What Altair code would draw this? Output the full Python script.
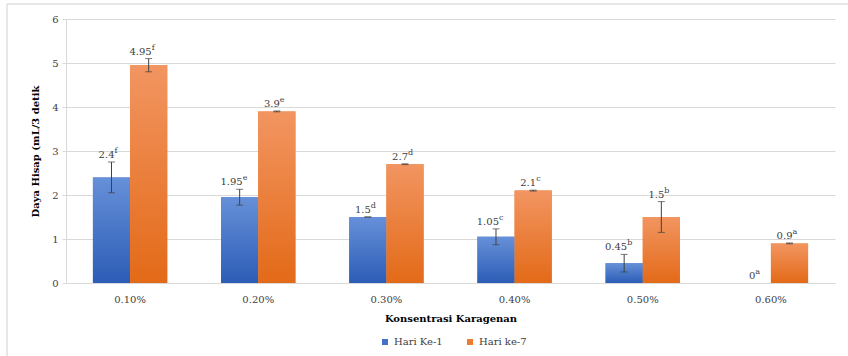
import altair as alt
import pandas as pd

categories = ["0.10%", "0.20%", "0.30%", "0.40%", "0.50%", "0.60%"]
series = ["Hari Ke-1", "Hari ke-7"]
day1 = [2.4, 1.95, 1.5, 1.05, 0.45, 0]
day1_err = [0.35, 0.18, 0.0, 0.18, 0.2, 0.0]
day1_letters = ["f", "e", "d", "c", "b", "a"]
day7 = [4.95, 3.9, 2.7, 2.1, 1.5, 0.9]
day7_err = [0.15, 0.01, 0.01, 0.01, 0.35, 0.01]
day7_letters = ["f", "e", "d", "c", "b", "a"]

rows = []
for s, vals, errs, lets in [(series[0], day1, day1_err, day1_letters),
                            (series[1], day7, day7_err, day7_letters)]:
    for c, v, e, l in zip(categories, vals, errs, lets):
        rows.append({"cat": c, "series": s, "value": v, "lo": max(v - e, 0), "hi": v + e,
                     "txt": f"{v:g}", "let": l})
df = pd.DataFrame(rows)

FONT = "DejaVu Serif"
x = alt.X("cat:N", sort=categories, title="Konsentrasi Karagenan",
          scale=alt.Scale(paddingInner=0.42, paddingOuter=0.21),
          axis=alt.Axis(labelAngle=0, ticks=False, domainColor="#D9D9D9", labelPadding=11,
                        labelFont=FONT, labelFontSize=10, labelColor="#404040",
                        titleFont=FONT, titleFontSize=10, titleFontWeight="bold",
                        titleColor="#000000", titlePadding=9))
xo = alt.XOffset("series:N", scale=alt.Scale(domain=series, paddingInner=0, paddingOuter=0))
y = alt.Y("value:Q", scale=alt.Scale(domain=[0, 6]), title="Daya Hisap (mL/3 detik",
          axis=alt.Axis(values=[0, 1, 2, 3, 4, 5, 6], domain=True, domainColor="#D9D9D9",
                        ticks=True, tickColor="#D9D9D9", tickSize=4, gridColor="#D9D9D9",
                        labelFont=FONT, labelFontSize=10, labelColor="#404040", labelPadding=4,
                        titleFont=FONT, titleFontSize=10, titleFontWeight="bold",
                        titleColor="#000000", titlePadding=11))

base = alt.Chart(df)

bars = base.mark_bar().encode(
    x=x, xOffset=xo, y=y,
    color=alt.Color("series:N", scale=alt.Scale(domain=series, range=["#4472C4", "#ED7D31"]),
                    legend=alt.Legend(title=None, orient="none", direction="horizontal",
                                      legendX=314, legendY=318, symbolType="square",
                                      symbolSize=36, symbolStrokeWidth=0, columnPadding=22,
                                      labelOffset=4,
                                      labelFont=FONT, labelFontSize=10, labelColor="#404040"))
)

def grad(top, bottom):
    return alt.Gradient(gradient="linear", x1=0, x2=0, y1=0, y2=1,
                        stops=[alt.GradientStop(color=top, offset=0),
                               alt.GradientStop(color=bottom, offset=1)])

bars1 = base.mark_bar(color=grad("#6690D8", "#2C5CB6")).encode(
    x=x, xOffset=xo, y=y).transform_filter(alt.datum.series == series[0])
bars7 = base.mark_bar(color=grad("#F29561", "#E36A18")).encode(
    x=x, xOffset=xo, y=y).transform_filter(alt.datum.series == series[1])

errbase = base.transform_filter(alt.datum.hi > 0)
err = errbase.mark_rule(color="#404040", strokeWidth=1).encode(
    x=x, xOffset=xo, y="lo:Q", y2="hi:Q")
cap_hi = errbase.mark_tick(color="#404040", thickness=1, size=7, orient="horizontal").encode(
    x=x, xOffset=xo, y="hi:Q")
cap_lo = errbase.mark_tick(color="#404040", thickness=1, size=7, orient="horizontal").encode(
    x=x, xOffset=xo, y="lo:Q")

txt = base.mark_text(font=FONT, fontSize=10, color="#404040", align="right",
                     baseline="alphabetic", dx=3, dy=-4).encode(
    x=x, xOffset=xo, y="hi:Q", text="txt:N")
let = base.mark_text(font=FONT, fontSize=8, color="#404040", align="left",
                     baseline="alphabetic", dx=3, dy=-9).encode(
    x=x, xOffset=xo, y="hi:Q", text="let:N")

border = alt.Chart(pd.DataFrame({"a": [0]})).mark_rect(
    fill=None, stroke="#D0D0D0", strokeWidth=1).encode(
    x=alt.value(-59), x2=alt.value(800), y=alt.value(-15), y2=alt.value(345))

chart = alt.layer(border, bars, bars1, bars7, err, cap_hi, cap_lo, txt, let).properties(
    width=769, height=264,
    autosize=alt.AutoSizeParams(type="none"),
    padding={"left": 66, "top": 19, "right": 13, "bottom": 73},
    background="white",
).configure_view(stroke=None)

chart.save("out.html", embed_options={"renderer": "svg", "actions": False})
